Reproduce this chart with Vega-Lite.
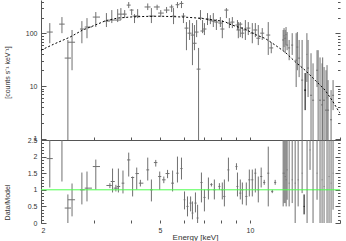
{
  "$schema": "https://vega.github.io/schema/vega-lite/v6.json",
  "background": "white",
  "padding": {"left": 3, "top": 0, "right": 0, "bottom": 0},
  "spacing": 0,
  "bounds": "flush",
  "config": {
    "view": {"stroke": null},
    "axis": {
      "labelFont": "Liberation Sans", "titleFont": "Liberation Sans",
      "labelFontSize": 7, "titleFontSize": 7, "titleFontWeight": "normal",
      "labelColor": "#333333", "titleColor": "#333333",
      "domainColor": "#555555", "tickColor": "#555555", "grid": false
    }
  },
  "datasets": {
    "spec": [
      {"e":2.14,"elo":2.09,"ehi":2.19,"v":106,"vlo":65,"vhi":157,"g":"a"},
      {"e":2.35,"elo":2.30,"ehi":2.40,"v":150,"vlo":101,"vhi":204,"g":"a"},
      {"e":2.46,"elo":2.40,"ehi":2.52,"v":34,"vlo":0.9,"vhi":75,"g":"a"},
      {"e":2.54,"elo":2.46,"ehi":2.60,"v":68,"vlo":20,"vhi":116,"g":"a"},
      {"e":2.74,"elo":2.70,"ehi":2.80,"v":121,"vlo":65,"vhi":171,"g":"a"},
      {"e":2.85,"elo":2.80,"ehi":2.96,"v":132,"vlo":81,"vhi":195,"g":"a"},
      {"e":3.05,"elo":2.98,"ehi":3.15,"v":204,"vlo":132,"vhi":254,"g":"a"},
      {"e":3.31,"elo":3.25,"ehi":3.40,"v":171,"vlo":132,"vhi":243,"g":"a"},
      {"e":3.45,"elo":3.38,"ehi":3.53,"v":179,"vlo":157,"vhi":277,"g":"a"},
      {"e":3.61,"elo":3.53,"ehi":3.70,"v":179,"vlo":164,"vhi":289,"g":"a"},
      {"e":3.70,"elo":3.61,"ehi":3.78,"v":232,"vlo":179,"vhi":302,"g":"a"},
      {"e":3.81,"elo":3.76,"ehi":3.87,"v":232,"vlo":195,"vhi":277,"g":"a"},
      {"e":3.93,"elo":3.87,"ehi":3.99,"v":344,"vlo":302,"vhi":393,"g":"a"},
      {"e":4.02,"elo":3.96,"ehi":4.08,"v":277,"vlo":222,"vhi":289,"g":"a"},
      {"e":4.11,"elo":4.05,"ehi":4.18,"v":213,"vlo":157,"vhi":232,"g":"a"},
      {"e":4.21,"elo":4.14,"ehi":4.28,"v":213,"vlo":195,"vhi":289,"g":"a"},
      {"e":4.55,"elo":4.44,"ehi":4.65,"v":317,"vlo":277,"vhi":370,"g":"a"},
      {"e":4.68,"elo":4.58,"ehi":4.80,"v":213,"vlo":157,"vhi":302,"g":"a"},
      {"e":4.89,"elo":4.77,"ehi":4.99,"v":317,"vlo":277,"vhi":350,"g":"a"},
      {"e":5.03,"elo":4.93,"ehi":5.15,"v":243,"vlo":204,"vhi":277,"g":"a"},
      {"e":5.26,"elo":5.15,"ehi":5.38,"v":277,"vlo":243,"vhi":317,"g":"a"},
      {"e":5.47,"elo":5.38,"ehi":5.55,"v":317,"vlo":254,"vhi":350,"g":"a"},
      {"e":5.55,"elo":5.47,"ehi":5.64,"v":213,"vlo":150,"vhi":302,"g":"a"},
      {"e":5.72,"elo":5.64,"ehi":5.81,"v":350,"vlo":302,"vhi":393,"g":"a"},
      {"e":5.90,"elo":5.81,"ehi":5.99,"v":370,"vlo":302,"vhi":410,"g":"a"},
      {"e":5.99,"elo":5.90,"ehi":6.08,"v":213,"vlo":157,"vhi":243,"g":"a"},
      {"e":6.13,"elo":6.04,"ehi":6.23,"v":126,"vlo":48,"vhi":164,"g":"a"},
      {"e":6.28,"elo":6.18,"ehi":6.38,"v":101,"vlo":75,"vhi":179,"g":"a"},
      {"e":6.42,"elo":6.33,"ehi":6.52,"v":93,"vlo":25,"vhi":157,"g":"a"},
      {"e":6.52,"elo":6.42,"ehi":6.63,"v":65,"vlo":48,"vhi":144,"g":"a"},
      {"e":6.63,"elo":6.52,"ehi":6.73,"v":106,"vlo":85,"vhi":179,"g":"a"},
      {"e":6.73,"elo":6.63,"ehi":6.83,"v":21,"vlo":0.9,"vhi":53,"g":"a"},
      {"e":6.83,"elo":6.73,"ehi":6.94,"v":195,"vlo":179,"vhi":277,"g":"a"},
      {"e":6.94,"elo":6.83,"ehi":7.04,"v":111,"vlo":101,"vhi":179,"g":"a"},
      {"e":7.04,"elo":6.94,"ehi":7.15,"v":121,"vlo":93,"vhi":157,"g":"a"},
      {"e":7.21,"elo":7.10,"ehi":7.32,"v":187,"vlo":144,"vhi":243,"g":"a"},
      {"e":7.37,"elo":7.26,"ehi":7.49,"v":179,"vlo":150,"vhi":222,"g":"a"},
      {"e":7.54,"elo":7.43,"ehi":7.66,"v":171,"vlo":132,"vhi":243,"g":"a"},
      {"e":7.72,"elo":7.60,"ehi":7.84,"v":164,"vlo":116,"vhi":187,"g":"a"},
      {"e":7.96,"elo":7.84,"ehi":8.08,"v":157,"vlo":132,"vhi":204,"g":"a"},
      {"e":8.08,"elo":7.96,"ehi":8.21,"v":121,"vlo":81,"vhi":179,"g":"a"},
      {"e":8.34,"elo":8.21,"ehi":8.47,"v":277,"vlo":195,"vhi":302,"g":"a"},
      {"e":8.53,"elo":8.40,"ehi":8.67,"v":157,"vlo":126,"vhi":195,"g":"a"},
      {"e":8.73,"elo":8.60,"ehi":8.87,"v":164,"vlo":126,"vhi":204,"g":"a"},
      {"e":9.08,"elo":8.94,"ehi":9.21,"v":144,"vlo":116,"vhi":179,"g":"a"},
      {"e":9.14,"elo":9.01,"ehi":9.28,"v":116,"vlo":81,"vhi":164,"g":"a"},
      {"e":9.28,"elo":9.14,"ehi":9.43,"v":150,"vlo":85,"vhi":164,"g":"a"},
      {"e":9.43,"elo":9.28,"ehi":9.57,"v":101,"vlo":81,"vhi":132,"g":"a"},
      {"e":9.65,"elo":9.50,"ehi":9.80,"v":116,"vlo":75,"vhi":179,"g":"a"},
      {"e":9.87,"elo":9.72,"ehi":10.03,"v":126,"vlo":93,"vhi":164,"g":"a"},
      {"e":10.18,"elo":10.03,"ehi":10.34,"v":101,"vlo":65,"vhi":157,"g":"a"},
      {"e":10.42,"elo":10.26,"ehi":10.58,"v":116,"vlo":85,"vhi":157,"g":"a"},
      {"e":10.66,"elo":10.50,"ehi":10.82,"v":81,"vlo":60,"vhi":144,"g":"a"},
      {"e":10.99,"elo":10.82,"ehi":11.16,"v":101,"vlo":75,"vhi":126,"g":"a"},
      {"e":11.51,"elo":11.33,"ehi":11.69,"v":93,"vlo":39,"vhi":164,"g":"a"},
      {"e":11.78,"elo":11.60,"ehi":11.96,"v":53,"vlo":42,"vhi":68,"g":"a"},
      {"e":12.91,"elo":12.81,"ehi":13.01,"v":75,"vlo":48,"vhi":116,"g":"a"},
      {"e":13.00,"elo":12.95,"ehi":13.05,"v":90,"vlo":55,"vhi":126,"g":"a"},
      {"e":13.11,"elo":13.01,"ehi":13.21,"v":81,"vlo":42,"vhi":116,"g":"a"},
      {"e":13.20,"elo":13.15,"ehi":13.25,"v":95,"vlo":60,"vhi":132,"g":"a"},
      {"e":13.31,"elo":13.21,"ehi":13.41,"v":60,"vlo":48,"vhi":106,"g":"a"},
      {"e":13.52,"elo":13.41,"ehi":13.62,"v":53,"vlo":31,"vhi":75,"g":"a"},
      {"e":13.84,"elo":13.73,"ehi":13.94,"v":60,"vlo":39,"vhi":101,"g":"a"},
      {"e":14.27,"elo":14.16,"ehi":14.38,"v":31,"vlo":9.6,"vhi":101,"g":"a"},
      {"e":14.40,"elo":14.30,"ehi":14.50,"v":55,"vlo":20,"vhi":106,"g":"a"},
      {"e":14.60,"elo":14.49,"ehi":14.71,"v":34,"vlo":14.8,"vhi":75,"g":"a"},
      {"e":14.94,"elo":14.83,"ehi":15.06,"v":13,"vlo":0.9,"vhi":75,"g":"a"},
      {"e":15.29,"elo":15.17,"ehi":15.40,"v":8.4,"vlo":3.5,"vhi":17.7,"g":"b"},
      {"e":15.50,"elo":15.45,"ehi":15.55,"v":40,"vlo":12,"vhi":101,"g":"a"},
      {"e":15.64,"elo":15.52,"ehi":15.76,"v":22,"vlo":6.2,"vhi":75,"g":"a"},
      {"e":16.00,"elo":15.88,"ehi":16.13,"v":6.7,"vlo":0.9,"vhi":42,"g":"a"},
      {"e":16.25,"elo":16.13,"ehi":16.38,"v":5.4,"vlo":0.9,"vhi":27,"g":"a"},
      {"e":16.76,"elo":16.63,"ehi":16.89,"v":20,"vlo":9.6,"vhi":48,"g":"a"},
      {"e":16.90,"elo":16.85,"ehi":16.95,"v":12,"vlo":0.9,"vhi":48,"g":"a"},
      {"e":17.15,"elo":17.02,"ehi":17.28,"v":5.4,"vlo":0.9,"vhi":35,"g":"a"},
      {"e":17.42,"elo":17.28,"ehi":17.55,"v":4.4,"vlo":0.9,"vhi":27,"g":"a"},
      {"e":17.50,"elo":17.45,"ehi":17.55,"v":8,"vlo":0.9,"vhi":35,"g":"a"},
      {"e":17.69,"elo":17.55,"ehi":17.82,"v":5.4,"vlo":0.9,"vhi":23,"g":"a"},
      {"e":17.96,"elo":17.82,"ehi":18.10,"v":3.5,"vlo":0.9,"vhi":20,"g":"a"},
      {"e":18.10,"elo":18.05,"ehi":18.15,"v":6,"vlo":0.9,"vhi":25,"g":"a"},
      {"e":18.24,"elo":18.10,"ehi":18.38,"v":3.5,"vlo":0.9,"vhi":13,"g":"a"},
      {"e":18.67,"elo":18.52,"ehi":18.81,"v":2.3,"vlo":0.9,"vhi":8.4,"g":"a"},
      {"e":18.96,"elo":18.81,"ehi":19.10,"v":6.7,"vlo":3.5,"vhi":13,"g":"a"}
    ],
    "model": [
      {"e":2.0,"m":48},{"e":2.2,"m":62},{"e":2.5,"m":85},{"e":2.75,"m":115},
      {"e":3.0,"m":140},{"e":3.3,"m":175},{"e":3.6,"m":195},{"e":4.0,"m":205},
      {"e":4.5,"m":210},{"e":5.0,"m":212},{"e":5.5,"m":208},{"e":6.0,"m":204},
      {"e":6.5,"m":198},{"e":7.0,"m":190},{"e":7.5,"m":180},{"e":8.0,"m":172},
      {"e":8.3,"m":164},{"e":8.53,"m":150},{"e":8.94,"m":137},{"e":9.65,"m":120},
      {"e":10.42,"m":95},{"e":11.25,"m":80},{"e":12.14,"m":60},{"e":13.11,"m":44},
      {"e":14.16,"m":29},{"e":15.29,"m":20},{"e":16.5,"m":13},{"e":17.82,"m":8.4},
      {"e":18.81,"m":5.4},{"e":19.7,"m":3.5},{"e":20.0,"m":3.1}
    ],
    "ratio": [
      {"e":2.14,"elo":2.09,"ehi":2.19,"r":1.94,"rlo":1.07,"rhi":2.6,"g":"a"},
      {"e":2.35,"elo":2.30,"ehi":2.40,"r":2.6,"rlo":1.25,"rhi":3.5,"g":"a"},
      {"e":2.46,"elo":2.40,"ehi":2.52,"r":0.45,"rlo":0,"rhi":0.86,"g":"a"},
      {"e":2.54,"elo":2.46,"ehi":2.60,"r":0.7,"rlo":0.2,"rhi":1.19,"g":"a"},
      {"e":2.74,"elo":2.70,"ehi":2.80,"r":1.0,"rlo":0.56,"rhi":1.52,"g":"a"},
      {"e":2.85,"elo":2.80,"ehi":2.96,"r":1.05,"rlo":0.65,"rhi":1.55,"g":"a"},
      {"e":3.05,"elo":2.98,"ehi":3.15,"r":1.70,"rlo":1.01,"rhi":1.91,"g":"a"},
      {"e":3.40,"elo":3.31,"ehi":3.45,"r":1.13,"rlo":1.05,"rhi":1.2,"g":"a"},
      {"e":3.47,"elo":3.42,"ehi":3.53,"r":1.25,"rlo":0.92,"rhi":1.64,"g":"a"},
      {"e":3.56,"elo":3.50,"ehi":3.63,"r":1.05,"rlo":0.95,"rhi":1.15,"g":"a"},
      {"e":3.63,"elo":3.58,"ehi":3.68,"r":1.1,"rlo":0.92,"rhi":1.64,"g":"a"},
      {"e":3.76,"elo":3.72,"ehi":3.80,"r":1.2,"rlo":0.89,"rhi":1.58,"g":"a"},
      {"e":3.93,"elo":3.88,"ehi":3.98,"r":1.9,"rlo":1.40,"rhi":2.12,"g":"a"},
      {"e":4.05,"elo":4.00,"ehi":4.10,"r":1.37,"rlo":0.8,"rhi":1.40,"g":"a"},
      {"e":4.18,"elo":4.14,"ehi":4.25,"r":1.49,"rlo":1.01,"rhi":1.67,"g":"a"},
      {"e":4.30,"elo":4.25,"ehi":4.40,"r":1.2,"rlo":1.1,"rhi":1.3,"g":"a"},
      {"e":4.55,"elo":4.50,"ehi":4.60,"r":1.6,"rlo":1.28,"rhi":1.97,"g":"a"},
      {"e":4.68,"elo":4.63,"ehi":4.73,"r":1.0,"rlo":0.65,"rhi":1.31,"g":"a"},
      {"e":4.84,"elo":4.77,"ehi":4.90,"r":1.82,"rlo":1.7,"rhi":1.9,"g":"a"},
      {"e":4.99,"elo":4.93,"ehi":5.05,"r":1.4,"rlo":1.0,"rhi":1.55,"g":"a"},
      {"e":5.15,"elo":5.08,"ehi":5.22,"r":1.3,"rlo":1.2,"rhi":1.4,"g":"a"},
      {"e":5.30,"elo":5.22,"ehi":5.38,"r":1.49,"rlo":1.35,"rhi":1.6,"g":"a"},
      {"e":5.51,"elo":5.45,"ehi":5.57,"r":1.2,"rlo":0.95,"rhi":1.58,"g":"a"},
      {"e":5.72,"elo":5.67,"ehi":5.77,"r":1.5,"rlo":1.22,"rhi":2.0,"g":"a"},
      {"e":5.90,"elo":5.85,"ehi":5.95,"r":1.64,"rlo":1.31,"rhi":1.97,"g":"a"},
      {"e":6.04,"elo":6.00,"ehi":6.08,"r":0.7,"rlo":0.41,"rhi":0.95,"g":"a"},
      {"e":6.18,"elo":6.13,"ehi":6.23,"r":0.5,"rlo":0.2,"rhi":0.80,"g":"a"},
      {"e":6.33,"elo":6.28,"ehi":6.38,"r":0.6,"rlo":0.35,"rhi":0.80,"g":"a"},
      {"e":6.42,"elo":6.38,"ehi":6.47,"r":0.3,"rlo":0.11,"rhi":0.65,"g":"a"},
      {"e":6.57,"elo":6.52,"ehi":6.63,"r":0.6,"rlo":0.32,"rhi":0.92,"g":"a"},
      {"e":6.68,"elo":6.63,"ehi":6.73,"r":0.15,"rlo":0,"rhi":0.55,"g":"a"},
      {"e":6.88,"elo":6.83,"ehi":6.94,"r":1.22,"rlo":0.62,"rhi":1.52,"g":"a"},
      {"e":7.04,"elo":6.99,"ehi":7.10,"r":0.77,"rlo":0.35,"rhi":1.01,"g":"a"},
      {"e":7.26,"elo":7.21,"ehi":7.32,"r":1.0,"rlo":0.71,"rhi":1.37,"g":"a"},
      {"e":7.43,"elo":7.37,"ehi":7.49,"r":1.16,"rlo":1.1,"rhi":1.2,"g":"a"},
      {"e":7.60,"elo":7.54,"ehi":7.66,"r":1.0,"rlo":0.71,"rhi":1.31,"g":"a"},
      {"e":7.90,"elo":7.84,"ehi":7.96,"r":1.1,"rlo":1.0,"rhi":1.2,"g":"a"},
      {"e":8.08,"elo":8.02,"ehi":8.14,"r":1.0,"rlo":0.71,"rhi":1.22,"g":"a"},
      {"e":8.21,"elo":8.14,"ehi":8.27,"r":0.80,"rlo":0.5,"rhi":1.31,"g":"a"},
      {"e":8.47,"elo":8.40,"ehi":8.53,"r":1.6,"rlo":1.25,"rhi":1.97,"g":"a"},
      {"e":9.01,"elo":8.94,"ehi":9.08,"r":1.7,"rlo":1.6,"rhi":1.8,"g":"a"},
      {"e":9.08,"elo":9.01,"ehi":9.14,"r":1.1,"rlo":0.8,"rhi":1.52,"g":"a"},
      {"e":9.28,"elo":9.21,"ehi":9.35,"r":0.9,"rlo":0.71,"rhi":1.31,"g":"a"},
      {"e":9.43,"elo":9.35,"ehi":9.50,"r":1.0,"rlo":0.56,"rhi":1.22,"g":"a"},
      {"e":9.72,"elo":9.65,"ehi":9.80,"r":0.8,"rlo":0.53,"rhi":1.22,"g":"a"},
      {"e":9.95,"elo":9.87,"ehi":10.03,"r":1.3,"rlo":0.80,"rhi":1.61,"g":"a"},
      {"e":10.18,"elo":10.10,"ehi":10.26,"r":1.3,"rlo":0.80,"rhi":1.61,"g":"a"},
      {"e":10.42,"elo":10.34,"ehi":10.50,"r":1.5,"rlo":0.92,"rhi":1.64,"g":"a"},
      {"e":10.66,"elo":10.58,"ehi":10.74,"r":1.0,"rlo":0.62,"rhi":1.40,"g":"a"},
      {"e":10.90,"elo":10.82,"ehi":10.99,"r":1.4,"rlo":1.07,"rhi":1.67,"g":"a"},
      {"e":11.16,"elo":11.07,"ehi":11.25,"r":1.22,"rlo":1.15,"rhi":1.3,"g":"a"},
      {"e":11.51,"elo":11.42,"ehi":11.60,"r":1.5,"rlo":0.5,"rhi":2.3,"g":"a"},
      {"e":11.87,"elo":11.78,"ehi":11.96,"r":0.95,"rlo":0.9,"rhi":1.0,"g":"a"},
      {"e":12.14,"elo":12.05,"ehi":12.24,"r":1.22,"rlo":1.15,"rhi":1.3,"g":"a"},
      {"e":12.91,"elo":12.86,"ehi":12.96,"r":1.5,"rlo":0.5,"rhi":2.5,"g":"a"},
      {"e":13.01,"elo":12.96,"ehi":13.06,"r":1.5,"rlo":0.6,"rhi":2.5,"g":"a"},
      {"e":13.11,"elo":13.06,"ehi":13.16,"r":1.4,"rlo":0.6,"rhi":2.5,"g":"a"},
      {"e":13.21,"elo":13.16,"ehi":13.26,"r":1.3,"rlo":0.5,"rhi":2.5,"g":"a"},
      {"e":13.31,"elo":13.26,"ehi":13.36,"r":1.6,"rlo":0.7,"rhi":2.5,"g":"a"},
      {"e":13.52,"elo":13.47,"ehi":13.57,"r":1.2,"rlo":0.5,"rhi":2.5,"g":"a"},
      {"e":13.84,"elo":13.79,"ehi":13.89,"r":1.3,"rlo":0.6,"rhi":2.5,"g":"a"},
      {"e":14.16,"elo":14.11,"ehi":14.21,"r":1.2,"rlo":0,"rhi":2.8,"g":"a"},
      {"e":14.49,"elo":14.44,"ehi":14.54,"r":1.3,"rlo":0.5,"rhi":2.5,"g":"a"},
      {"e":14.94,"elo":14.89,"ehi":14.99,"r":1.5,"rlo":0.9,"rhi":2.5,"g":"a"},
      {"e":15.17,"elo":15.12,"ehi":15.22,"r":0.5,"rlo":0.26,"rhi":0.86,"g":"b"},
      {"e":15.52,"elo":15.47,"ehi":15.57,"r":1.0,"rlo":0,"rhi":2.5,"g":"a"},
      {"e":15.88,"elo":15.83,"ehi":15.93,"r":2.2,"rlo":1.6,"rhi":2.8,"g":"a"},
      {"e":16.25,"elo":16.20,"ehi":16.30,"r":1.0,"rlo":0,"rhi":2.8,"g":"a"},
      {"e":16.76,"elo":16.71,"ehi":16.81,"r":1.5,"rlo":0.7,"rhi":2.5,"g":"a"},
      {"e":17.15,"elo":17.10,"ehi":17.20,"r":1.0,"rlo":0,"rhi":2.8,"g":"a"},
      {"e":17.42,"elo":17.37,"ehi":17.47,"r":1.3,"rlo":0,"rhi":2.8,"g":"a"},
      {"e":17.69,"elo":17.64,"ehi":17.74,"r":1.1,"rlo":0,"rhi":2.8,"g":"a"},
      {"e":18.10,"elo":18.05,"ehi":18.15,"r":1.0,"rlo":0,"rhi":2.8,"g":"a"},
      {"e":18.38,"elo":18.33,"ehi":18.43,"r":1.4,"rlo":0,"rhi":2.8,"g":"a"},
      {"e":18.67,"elo":18.62,"ehi":18.72,"r":1.2,"rlo":0,"rhi":2.8,"g":"a"},
      {"e":18.96,"elo":18.91,"ehi":19.01,"r":1.5,"rlo":0.4,"rhi":2.5,"g":"a"}
    ],
    "unity": [{"r": 1}]
  },
  "vconcat": [
    {
      "width": 299,
      "height": 140,
      "resolve": {"axis": {"y": "independent"}},
      "layer": [
        {
          "data": {"name": "spec"},
          "mark": {"type": "rule", "clip": true, "strokeWidth": 1},
          "encoding": {
            "x": {"field": "e", "type": "quantitative",
                  "scale": {"type": "log", "domain": [2, 20], "nice": false},
                  "axis": {"orient": "bottom", "values": [2,3,4,5,6,7,8,9,10,20], "labels": false, "title": null, "tickSize": -3, "minExtent": 0, "maxExtent": 0}},
            "y": {"field": "vlo", "type": "quantitative",
                  "scale": {"type": "log", "domain": [0.95, 430], "nice": false},
                  "axis": {"values": [1,2,3,4,5,6,7,8,9,10,20,30,40,50,60,70,80,90,100,200,300,400],
                           "format": "~g",
                           "labelExpr": "(datum.value == 1 || datum.value == 10 || datum.value == 100) ? datum.label : ''",
                           "tickSize": {"condition": {"test": "datum.value == 1 || datum.value == 10 || datum.value == 100", "value": -5}, "value": -2.5},
                           "labelPadding": 9,
                           "title": "[counts s⁻¹ keV⁻¹]", "titleX": -31, "titleY": 72}},
            "y2": {"field": "vhi"},
            "color": {"field": "g", "type": "nominal", "scale": {"domain": ["a","b"], "range": ["#707070","#000000"]}, "legend": null}
          }
        },
        {
          "data": {"name": "spec"},
          "mark": {"type": "rule", "clip": true, "strokeWidth": 1},
          "encoding": {
            "x": {"field": "elo", "type": "quantitative"},
            "x2": {"field": "ehi"},
            "y": {"field": "v", "type": "quantitative", "axis": null},
            "color": {"field": "g", "type": "nominal", "legend": null}
          }
        },
        {
          "data": {"name": "model"},
          "mark": {"type": "line", "clip": true, "color": "#000000", "strokeWidth": 1, "strokeDash": [2, 2]},
          "encoding": {
            "x": {"field": "e", "type": "quantitative"},
            "y": {"field": "m", "type": "quantitative",
                  "axis": {"orient": "right", "values": [1,2,3,4,5,6,7,8,9,10,20,30,40,50,60,70,80,90,100,200,300,400],
                           "labels": false, "title": null, "domain": false,
                           "tickSize": {"condition": {"test": "datum.value == 1 || datum.value == 10 || datum.value == 100", "value": -5}, "value": -2.5},
                           "minExtent": 0, "maxExtent": 0}}
          }
        }
      ]
    },
    {
      "width": 299,
      "height": 83,
      "resolve": {"axis": {"y": "independent"}},
      "layer": [
        {
          "data": {"name": "ratio"},
          "mark": {"type": "rule", "clip": true, "strokeWidth": 1},
          "encoding": {
            "x": {"field": "e", "type": "quantitative",
                  "scale": {"type": "log", "domain": [2, 20], "nice": false},
                  "axis": {"values": [2,3,4,5,6,7,8,9,10,20], "format": "~g",
                           "labelExpr": "(datum.value == 2 || datum.value == 5 || datum.value == 10) ? datum.label : ''",
                           "domain": false, "tickSize": -3, "labelPadding": 6,
                           "title": "Energy [keV]", "titleFontSize": 8, "titlePadding": 0, "titleX": 154}},
            "y": {"field": "rlo", "type": "quantitative",
                  "scale": {"domain": [0, 2.5], "nice": false, "zero": false},
                  "axis": {"values": [0,0.1,0.2,0.3,0.4,0.5,0.6,0.7,0.8,0.9,1,1.1,1.2,1.3,1.4,1.5,1.6,1.7,1.8,1.9,2,2.1,2.2,2.3,2.4,2.5],
                           "format": "~g",
                           "labelExpr": "abs(datum.value * 2 - round(datum.value * 2)) < 0.01 ? datum.label : ''",
                           "tickSize": {"condition": {"test": "abs(datum.value * 2 - round(datum.value * 2)) < 0.01", "value": -5}, "value": -2.5},
                           "labelPadding": 9,
                           "title": "Data/Model", "titleX": -31, "titleY": 62}},
            "y2": {"field": "rhi"},
            "color": {"field": "g", "type": "nominal", "scale": {"domain": ["a","b"], "range": ["#707070","#000000"]}, "legend": null}
          }
        },
        {
          "data": {"name": "ratio"},
          "mark": {"type": "rule", "clip": true, "strokeWidth": 1},
          "encoding": {
            "x": {"field": "elo", "type": "quantitative"},
            "x2": {"field": "ehi"},
            "y": {"field": "r", "type": "quantitative", "axis": null},
            "color": {"field": "g", "type": "nominal", "legend": null}
          }
        },
        {
          "data": {"name": "unity"},
          "mark": {"type": "rule", "color": "#4dff4d", "strokeWidth": 1},
          "encoding": {
            "y": {"field": "r", "type": "quantitative",
                  "axis": {"orient": "right", "values": [0,0.1,0.2,0.3,0.4,0.5,0.6,0.7,0.8,0.9,1,1.1,1.2,1.3,1.4,1.5,1.6,1.7,1.8,1.9,2,2.1,2.2,2.3,2.4,2.5],
                           "labels": false, "title": null, "domain": false,
                           "tickSize": {"condition": {"test": "abs(datum.value * 2 - round(datum.value * 2)) < 0.01", "value": -5}, "value": -2.5},
                           "minExtent": 0, "maxExtent": 0}}
          }
        }
      ]
    }
  ]
}
